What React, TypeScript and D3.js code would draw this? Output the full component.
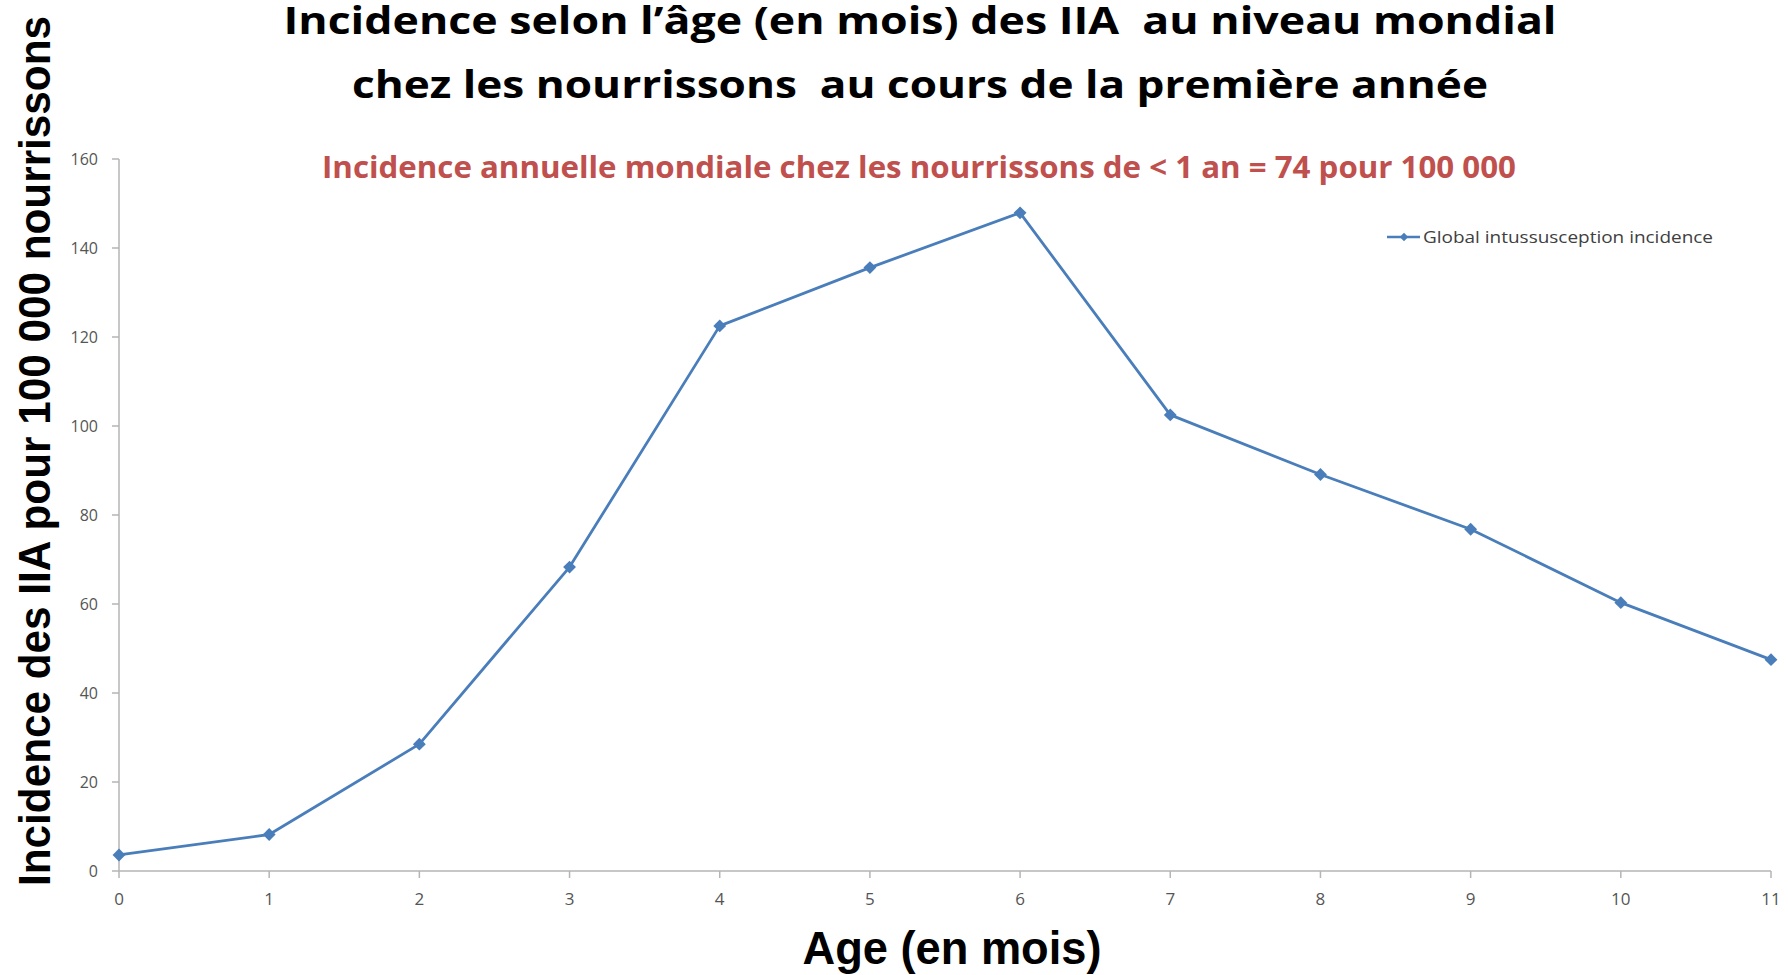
import React from "react";
import * as d3 from "d3";

const months = [0, 1, 2, 3, 4, 5, 6, 7, 8, 9, 10, 11];
const incidence = [3.6, 8.2, 28.5, 68.3, 122.5, 135.6, 147.9, 102.5, 89.1, 76.8, 60.3, 47.5];
const yTicks = [0, 20, 40, 60, 80, 100, 120, 140, 160];
const titleLines = [
  "Incidence selon l’âge (en mois) des IIA  au niveau mondial",
  "chez les nourrissons  au cours de la première année",
];
const subtitle = "Incidence annuelle mondiale chez les nourrissons de < 1 an = 74 pour 100 000";
const legendLabel = "Global intussusception incidence";
const xTitle = "Age (en mois)";
const yTitle = "Incidence des IIA pour 100 000 nourrissons";

const W = 1788;
const H = 975;

export default function App() {
  const x = d3.scaleLinear().domain([0, 11]).range([119, 1771]);
  const y = d3.scaleLinear().domain([0, 160]).range([871, 159]);
  const line = d3
    .line<number>()
    .x((_, i) => x(months[i]))
    .y((d) => y(d));
  const has2 = !!(d3 as any).symbolDiamond2;
  const symType: any = has2 ? (d3 as any).symbolDiamond2 : d3.symbolSquare;
  const rot = has2 ? 0 : 45;
  const sym = d3.symbol().type(symType).size(has2 ? 105 : 60)();
  const legSym = d3.symbol().type(symType).size(has2 ? 45 : 28)();
  const lineColor = "#4a7ebb";
  const axisColor = "#b5b5b5";
  const tickText = "#555555";

  return (
    <svg
      width={W}
      height={H}
      style={{ position: "absolute", left: 0, top: 0, background: "#fff" }}
    >
      {/* titles */}
      <text
        x={920}
        y={34}
        textAnchor="middle"
        fontFamily="Open Sans"
        fontWeight={700}
        fontSize={38}
        textLength={1273}
        lengthAdjust="spacingAndGlyphs"
        fill="#000"
        style={{ whiteSpace: "pre" }}
      >
        {titleLines[0]}
      </text>
      <text
        x={920}
        y={98}
        textAnchor="middle"
        fontFamily="Open Sans"
        fontWeight={700}
        fontSize={38}
        textLength={1136}
        lengthAdjust="spacingAndGlyphs"
        fill="#000"
        style={{ whiteSpace: "pre" }}
      >
        {titleLines[1]}
      </text>
      <text
        x={919}
        y={178}
        textAnchor="middle"
        fontFamily="Open Sans"
        fontWeight={700}
        fontSize={30}
        textLength={1194}
        lengthAdjust="spacingAndGlyphs"
        fill="#c0504d"
      >
        {subtitle}
      </text>

      {/* y axis */}
      <line x1={x(0)} x2={x(0)} y1={y(160)} y2={y(0)} stroke={axisColor} strokeWidth={1.5} />
      {yTicks.map((t) => (
        <g key={"y" + t}>
          <line x1={x(0) - 7} x2={x(0)} y1={y(t)} y2={y(t)} stroke={axisColor} strokeWidth={1.5} />
          <text
            x={98}
            y={y(t)}
            dy="0.35em"
            textAnchor="end"
            fontFamily="Open Sans"
            fontSize={16}
            fill={tickText}
          >
            {t}
          </text>
        </g>
      ))}

      {/* x axis */}
      <line x1={x(0)} x2={x(11)} y1={y(0)} y2={y(0)} stroke={axisColor} strokeWidth={1.5} />
      {months.map((m) => (
        <g key={"x" + m}>
          <line x1={x(m)} x2={x(m)} y1={y(0)} y2={y(0) + 7} stroke={axisColor} strokeWidth={1.5} />
          <text
            x={x(m)}
            y={905}
            textAnchor="middle"
            fontFamily="Open Sans"
            fontSize={17}
            fill={tickText}
          >
            {m}
          </text>
        </g>
      ))}

      {/* series */}
      <path d={line(incidence) || ""} fill="none" stroke={lineColor} strokeWidth={2.8} strokeLinejoin="round" />
      {incidence.map((v, i) => (
        <path
          key={"m" + i}
          d={sym || ""}
          transform={`translate(${x(months[i])},${y(v)}) rotate(${rot})`}
          fill={lineColor}
        />
      ))}

      {/* legend */}
      <line x1={1387} x2={1420} y1={237} y2={237} stroke={lineColor} strokeWidth={2.5} />
      <path d={legSym || ""} transform={`translate(1404,237) rotate(${rot})`} fill={lineColor} />
      <text
        x={1423}
        y={237}
        dy="0.35em"
        fontFamily="Open Sans"
        fontSize={16}
        textLength={290}
        lengthAdjust="spacingAndGlyphs"
        fill="#404040"
      >
        {legendLabel}
      </text>

      {/* axis titles */}
      <text
        x={952}
        y={964}
        textAnchor="middle"
        fontFamily="Liberation Sans, Arial, sans-serif"
        fontWeight={700}
        fontSize={46}
        textLength={299}
        lengthAdjust="spacingAndGlyphs"
        fill="#000"
      >
        {xTitle}
      </text>
      <text
        transform="translate(50,886) rotate(-90)"
        x={0}
        y={0}
        textAnchor="start"
        fontFamily="Liberation Sans, Arial, sans-serif"
        fontWeight={700}
        fontSize={45}
        textLength={870}
        lengthAdjust="spacingAndGlyphs"
        fill="#000"
      >
        {yTitle}
      </text>
    </svg>
  );
}
